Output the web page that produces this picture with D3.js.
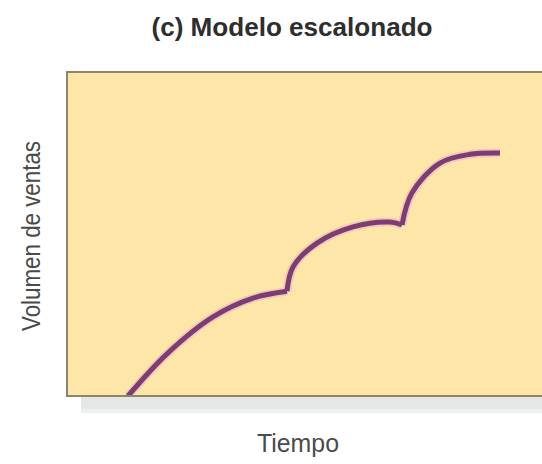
<!DOCTYPE html>
<html>
<head>
<meta charset="utf-8">
<script src="https://cdn.jsdelivr.net/npm/d3@7/dist/d3.min.js"></script>
<style>
  html, body { margin: 0; padding: 0; background: #ffffff; }
  svg { display: block; }
</style>
</head>
<body>
<svg id="chart" width="542" height="464"></svg>
<script>
// ---- Data (time units 0–100, sales volume units 0–100) ----
const title = "(c) Modelo escalonado";
const xLabel = "Tiempo";
const yLabel = "Volumen de ventas";

const stage1Time   = [12.2, 20.0, 29.2, 37.2, 44.0];
const stage1Volume = [0.0, 13.0, 24.4, 30.2, 32.3];

const stage2Time   = [44.0, 45.2, 50.0, 57.2, 64.6, 67.0];
const stage2Volume = [32.3, 39.8, 47.2, 52.2, 53.7, 52.8];

const stage3Time   = [67.0, 69.0, 74.6, 80.6, 86.6];
const stage3Volume = [52.8, 62.7, 71.9, 74.6, 75.0];

// ---- Layout ----
const svg = d3.select("#chart");
const frame = { left: 67, top: 72, right: 567, bottom: 396 };

const x = d3.scaleLinear().domain([0, 100]).range([frame.left, frame.right]);
const y = d3.scaleLinear().domain([0, 100]).range([frame.bottom, frame.top]);

// shadow under the frame
svg.append("rect")
  .attr("x", frame.left + 14).attr("y", frame.bottom + 1)
  .attr("width", 600).attr("height", 16)
  .attr("fill", "#e5e7e7");
svg.append("rect")
  .attr("x", frame.left + 14).attr("y", frame.bottom + 13)
  .attr("width", 600).attr("height", 4)
  .attr("fill", "#eff0f0");

// frame
svg.append("rect")
  .attr("x", frame.left).attr("y", frame.top)
  .attr("width", frame.right - frame.left).attr("height", frame.bottom - frame.top)
  .attr("fill", "#fde6a7")
  .attr("stroke", "#8c8668").attr("stroke-width", 2);

// clip for the curve
svg.append("clipPath").attr("id", "clip")
  .append("rect")
  .attr("x", frame.left).attr("y", frame.top - 20)
  .attr("width", frame.right - frame.left).attr("height", frame.bottom - frame.top + 19);

const line = d3.line()
  .x(d => x(d[0])).y(d => y(d[1]))
  .curve(d3.curveCatmullRom.alpha(0.5));

const stages = [
  d3.zip(stage1Time, stage1Volume),
  d3.zip(stage2Time, stage2Volume),
  d3.zip(stage3Time, stage3Volume)
];

const g = svg.append("g").attr("clip-path", "url(#clip)");
// soft pink halo
g.selectAll("path.halo").data(stages).join("path")
  .attr("class", "halo")
  .attr("d", line)
  .attr("fill", "none")
  .attr("stroke", "#e9a9cf")
  .attr("stroke-opacity", 0.5)
  .attr("stroke-width", 8.5)
  .attr("stroke-linejoin", "miter");
// main curve
g.selectAll("path.curve").data(stages).join("path")
  .attr("class", "curve")
  .attr("d", line)
  .attr("fill", "none")
  .attr("stroke", "#7b3d72")
  .attr("stroke-width", 5)
  .attr("stroke-linecap", "butt")
  .attr("stroke-linejoin", "miter");

// redraw bottom border over the curve start
svg.append("line")
  .attr("x1", frame.left).attr("x2", 542)
  .attr("y1", frame.bottom).attr("y2", frame.bottom)
  .attr("stroke", "#8c8668").attr("stroke-width", 2);

// title
svg.append("text")
  .attr("x", 292).attr("y", 36)
  .attr("text-anchor", "middle")
  .attr("font-family", "'Liberation Sans', Arial, sans-serif")
  .attr("font-weight", "bold")
  .attr("font-size", 25)
  .attr("fill", "#2e2e2e")
  .attr("textLength", 281)
  .attr("lengthAdjust", "spacingAndGlyphs")
  .text(title);

// x label
svg.append("text")
  .attr("x", 298).attr("y", 452)
  .attr("text-anchor", "middle")
  .attr("font-family", "'Liberation Sans', Arial, sans-serif")
  .attr("font-size", 25)
  .attr("fill", "#4a4a4a")
  .attr("textLength", 82)
  .attr("lengthAdjust", "spacingAndGlyphs")
  .text(xLabel);

// y label
svg.append("text")
  .attr("transform", "translate(40,236) rotate(-90)")
  .attr("text-anchor", "middle")
  .attr("font-family", "'Liberation Sans', Arial, sans-serif")
  .attr("font-size", 25)
  .attr("fill", "#4a4a4a")
  .attr("textLength", 190)
  .attr("lengthAdjust", "spacingAndGlyphs")
  .text(yLabel);
</script>
</body>
</html>
